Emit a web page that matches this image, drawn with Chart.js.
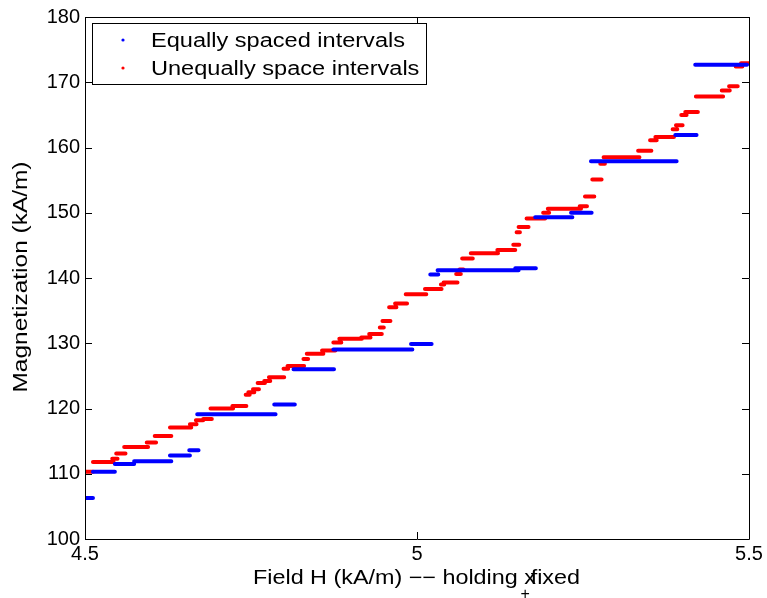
<!DOCTYPE html>
<html>
<head>
<meta charset="utf-8">
<script src="https://cdn.jsdelivr.net/npm/chart.js@4.4.1/dist/chart.umd.min.js"></script>
<style>
    html, body { margin: 0; padding: 0; background: #fff; }
    canvas { display: block; }
</style>
</head>
<body>
<canvas id="myChart" width="767" height="598"></canvas>
<script>
// step segments: start field, end field, magnetization
var blueStart = [4.500, 4.512, 4.545, 4.574, 4.628, 4.657, 4.669, 4.785, 4.814, 4.874, 4.991, 5.020, 5.031, 5.148, 5.178, 5.232, 5.262, 5.389, 5.419];
var blueEnd   = [4.512, 4.545, 4.574, 4.630, 4.658, 4.671, 4.787, 4.816, 4.875, 4.993, 5.022, 5.032, 5.153, 5.179, 5.234, 5.263, 5.391, 5.421, 5.497];
var blueLevel = [106.3, 110.3, 111.5, 111.9, 112.8, 113.6, 119.1, 120.6, 126.0, 129.05, 129.9, 140.55, 141.2, 141.5, 149.3, 150.0, 157.9, 161.9, 172.7];

var redStart = [4.500, 4.512, 4.541, 4.547, 4.559, 4.593, 4.605, 4.628, 4.658, 4.667, 4.678, 4.689, 4.722, 4.742, 4.746, 4.753,
    4.760, 4.770, 4.777, 4.799, 4.805, 4.829, 4.834, 4.857, 4.874, 4.883, 4.916, 4.928, 4.944, 4.948, 4.958, 4.967, 4.983,
    5.012, 5.036, 5.040, 5.059, 5.064, 5.068, 5.081, 5.121, 5.145, 5.150, 5.153, 5.165, 5.190, 5.197, 5.245, 5.253, 5.264,
    5.276, 5.281, 5.333, 5.351, 5.359, 5.385, 5.390, 5.398, 5.404, 5.420, 5.459, 5.470, 5.480, 5.488];
var redEnd = [4.512, 4.543, 4.549, 4.561, 4.595, 4.607, 4.630, 4.660, 4.668, 4.678, 4.691, 4.723, 4.743, 4.748, 4.755, 4.762,
    4.771, 4.779, 4.800, 4.806, 4.830, 4.836, 4.859, 4.877, 4.886, 4.917, 4.930, 4.947, 4.950, 4.960, 4.969, 4.985, 5.014,
    5.037, 5.041, 5.061, 5.066, 5.070, 5.084, 5.122, 5.148, 5.154, 5.155, 5.168, 5.193, 5.199, 5.247, 5.256, 5.267, 5.278,
    5.283, 5.335, 5.353, 5.361, 5.387, 5.392, 5.400, 5.406, 5.423, 5.461, 5.471, 5.483, 5.490, 5.500];
var redLevel = [110.3, 111.8, 112.3, 113.1, 114.1, 114.8, 115.8, 117.1, 117.6, 118.2, 118.4, 120.0, 120.4, 122.1, 122.5, 122.95,
    123.9, 124.2, 124.8, 126.1, 126.5, 127.6, 128.4, 128.9, 130.1, 130.7, 130.9, 131.4, 132.4, 133.4, 135.5, 136.1, 137.5,
    138.3, 139.0, 139.3, 140.6, 141.3, 143.0, 143.8, 144.3, 145.1, 147.0, 147.8, 149.1, 150.0, 150.6, 151.0, 152.5, 155.1,
    157.5, 158.5, 159.5, 161.1, 161.6, 162.8, 163.4, 165.0, 165.45, 167.8, 168.75, 169.4, 172.4, 172.9];

var xTicks = [4.5, 5, 5.5];
var yTicks = [100, 110, 120, 130, 140, 150, 160, 170, 180];
var seriesNames = ['Equally spaced intervals', 'Unequally space intervals'];

var FONT = '"Liberation Sans", Arial, Helvetica, sans-serif';

function buildSteps(starts, ends, levels) {
    var pts = [];
    for (var i = 0; i < levels.length; i++) {
        pts.push({x: starts[i], y: levels[i]});
        pts.push({x: ends[i], y: levels[i]});
        pts.push({x: ends[i], y: null});
    }
    return pts;
}

// text in the picture is a bit wider than plain Arial, so stretch it sideways
function wideText(ctx, text, x, y, sx) {
    ctx.save();
    ctx.translate(x, y);
    ctx.scale(sx, 1);
    ctx.fillText(text, 0, 0);
    ctx.restore();
}

// box, inward ticks, legend and axis titles (matlab look)
var matlabFrame = {
    id: 'matlabFrame',
    afterDatasetsDraw: function (chart) {
        var ctx = chart.ctx;
        var a = chart.chartArea;
        var xs = chart.scales.x, ys = chart.scales.y;
        ctx.save();
        ctx.strokeStyle = '#000';
        ctx.lineWidth = 1;
        ctx.beginPath();
        ctx.rect(Math.round(a.left) + 0.5, Math.round(a.top) + 0.5, Math.round(a.right - a.left), Math.round(a.bottom - a.top));
        xTicks.forEach(function (v) {
            var px = Math.round(xs.getPixelForValue(v)) + 0.5;
            ctx.moveTo(px, a.bottom);
            ctx.lineTo(px, a.bottom - 7);
            ctx.moveTo(px, a.top);
            ctx.lineTo(px, a.top + 7);
        });
        yTicks.forEach(function (v) {
            var py = Math.round(ys.getPixelForValue(v)) + 0.5;
            ctx.moveTo(a.left, py);
            ctx.lineTo(a.left + 7, py);
            ctx.moveTo(a.right, py);
            ctx.lineTo(a.right - 7, py);
        });
        ctx.stroke();

        // legend
        ctx.fillStyle = '#fff';
        ctx.fillRect(92, 23, 334, 61);
        ctx.strokeRect(92.5, 23.5, 334, 61);
        ctx.font = '20px ' + FONT;
        ctx.textBaseline = 'middle';
        ctx.textAlign = 'left';
        var colors = ['#0000ff', '#ff0000'];
        var rows = [40, 68];
        var sx = 254 / ctx.measureText(seriesNames[0]).width;
        for (var i = 0; i < 2; i++) {
            ctx.fillStyle = colors[i];
            ctx.beginPath();
            ctx.arc(123, rows[i], 1.6, 0, Math.PI * 2);
            ctx.fill();
            ctx.fillStyle = '#000';
            wideText(ctx, seriesNames[i], 151, rows[i] + 1, sx);
        }

        // y title
        var yTitle = 'Magnetization (kA/m)';
        var sy = 231 / ctx.measureText(yTitle).width;
        ctx.save();
        ctx.translate(21, 277);
        ctx.rotate(-Math.PI / 2);
        ctx.textAlign = 'center';
        ctx.scale(sy, 1);
        ctx.fillText(yTitle, 0, 0);
        ctx.restore();

        // x title, the x is overprinted on "fixed"
        var head = 'Field H (kA/m) \u2212\u2212 holding ';
        var wHead = ctx.measureText(head).width;
        var wX = ctx.measureText('x').width;
        var wTail = ctx.measureText('fixed').width;
        var fixedAt = wHead + wX * 0.55;
        var k = 327 / (fixedAt + wTail);
        var yT = 578;
        ctx.save();
        ctx.translate(253, yT);
        ctx.scale(k, 1);
        ctx.fillText(head, 0, 0);
        ctx.fillText('x', wHead, 0);
        ctx.fillText('fixed', fixedAt, 0);
        ctx.restore();
        ctx.font = '16px ' + FONT;
        ctx.textAlign = 'center';
        ctx.fillText('+', 253 + k * wHead + 1, 595);
        ctx.restore();
    }
};

var ctx = document.getElementById('myChart').getContext('2d');
var myChart = new Chart(ctx, {
    type: 'line',
    data: {
        datasets: [
            {
                label: seriesNames[0],
                data: buildSteps(blueStart, blueEnd, blueLevel),
                borderColor: '#0000ff',
                borderWidth: 4,
                borderCapStyle: 'round',
                pointRadius: 0,
                spanGaps: false,
                fill: false
            },
            {
                label: seriesNames[1],
                data: buildSteps(redStart, redEnd, redLevel),
                borderColor: '#ff0000',
                borderWidth: 4,
                borderCapStyle: 'round',
                pointRadius: 0,
                spanGaps: false,
                fill: false
            }
        ]
    },
    options: {
        responsive: false,
        animation: false,
        devicePixelRatio: 1,
        layout: {padding: {left: 0, top: 15, right: 18, bottom: 0}},
        plugins: {
            legend: {display: false},
            tooltip: {enabled: false}
        },
        scales: {
            x: {
                type: 'linear',
                min: 4.5,
                max: 5.5,
                afterBuildTicks: function (scale) {
                    scale.ticks = xTicks.map(function (v) { return {value: v}; });
                },
                afterFit: function (scale) { scale.height = 59; },
                grid: {display: false, drawTicks: false},
                border: {display: false},
                ticks: {
                    color: '#000', padding: 3, maxRotation: 0, font: {family: FONT, size: 20},
                    callback: function (value) { return String(value); }
                }
            },
            y: {
                min: 100,
                max: 180,
                afterBuildTicks: function (scale) {
                    scale.ticks = yTicks.map(function (v) { return {value: v}; });
                },
                afterFit: function (scale) { scale.width = 85; },
                grid: {display: false, drawTicks: false},
                border: {display: false},
                ticks: {color: '#000', padding: 5, font: {family: FONT, size: 20}}
            }
        }
    },
    plugins: [matlabFrame]
});
</script>
</body>
</html>
